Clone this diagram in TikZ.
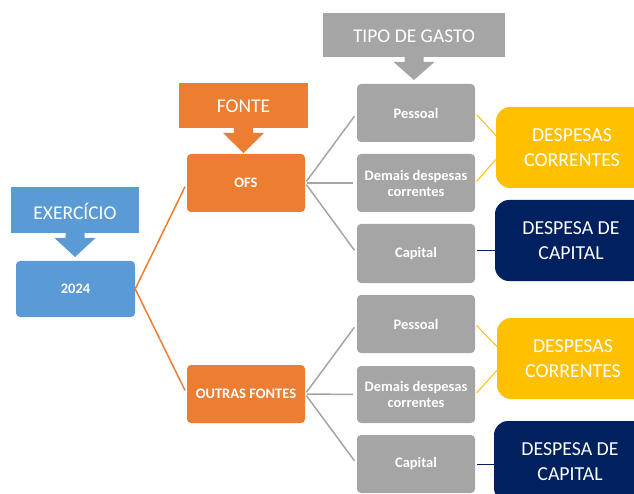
\documentclass[tikz,border=0pt]{standalone}
\usepackage{fontspec}
\setmainfont{Carlito}
\usetikzlibrary{calc}
\definecolor{cblue}{HTML}{5B9BD5}
\definecolor{corange}{HTML}{ED7D31}
\definecolor{cgray}{HTML}{A5A5A5}
\definecolor{cyellow}{HTML}{FFC000}
\definecolor{cnavy}{HTML}{002060}
\begin{document}
\begin{tikzpicture}[x=1pt,y=-1pt,
  box/.style={draw=none,rounded corners=4pt,minimum width=118pt,minimum height=58pt,
    text=white,font=\fontsize{14.5}{16}\selectfont\bfseries,align=center,inner sep=0pt},
  big/.style={draw=none,rounded corners=14pt,minimum width=152pt,minimum height=81pt,
    text=white,font=\fontsize{19.8}{25.5}\selectfont,align=center,inner sep=0pt},
  lbl/.style={text=white,font=\fontsize{19.5}{22}\selectfont,inner sep=0pt},
  conn/.style={line width=1.5pt,shorten >=4pt}
]
\clip (0,0) rectangle (634,494);
\useasboundingbox (0,0) rectangle (634,494);

% callouts
\newcommand{\callout}[6]{% color, x1, y1, x2, y2, tip y
  \fill[#1] (#2,#3) rectangle (#4,#5);
  \pgfmathsetmacro{\cx}{(#2+#4)/2}
  \fill[#1] (\cx-9.5,#5) -- (\cx-9.5,#5+5) -- (\cx-20.5,#5+5) -- (\cx,#6)
     -- (\cx+20.5,#5+5) -- (\cx+9.5,#5+5) -- (\cx+9.5,#5) -- cycle;
}
\callout{cblue}{11}{187}{139}{233}{257}
\callout{corange}{179}{83}{308}{128}{153}
\callout{cgray}{323}{13}{505}{57}{80}
\node[lbl] (lex) at (75,211) {EXERCÍCIO};
\node[lbl] (lfo) at (243.5,106) {FONTE};
\node[lbl] (lti) at (414,36) {TIPO DE GASTO};

% boxes
\node[box,fill=cblue,minimum width=119pt,minimum height=56pt] (y24) at (75.5,289) {2024};
\node[box,fill=corange] (ofs) at (246,183) {OFS};
\node[box,fill=corange] (out) at (246,394) {OUTRAS FONTES};

\node[box,fill=cgray] (p1) at (416,113) {Pessoal};
\node[box,fill=cgray] (d1) at (416,183) {Demais despesas\\correntes};
\node[box,fill=cgray,minimum height=59pt] (c1) at (416,253.5) {Capital};
\node[box,fill=cgray] (p2) at (416,324) {Pessoal};
\node[box,fill=cgray,minimum height=57pt] (d2) at (416,394.5) {Demais despesas\\correntes};
\node[box,fill=cgray] (c2) at (416,464) {Capital};

\node[big,fill=cyellow] (yl1) at (572,147.5) {DESPESAS\\CORRENTES};
\node[big,fill=cnavy] (nv1) at (571,240.5) {DESPESA DE\\CAPITAL};
\node[big,fill=cyellow] (yl2) at (573,358.5) {DESPESAS\\CORRENTES};
\node[big,fill=cnavy] (nv2) at (570,461.5) {DESPESA DE\\CAPITAL};

% connectors
\draw[conn,corange] (y24.east) -- (ofs.west);
\draw[conn,corange] (y24.east) -- (out.west);
\foreach \s/\t in {ofs/p1,ofs/d1,ofs/c1,out/p2,out/d2,out/c2}
  \draw[conn,cgray,shorten <=2pt] (\s.east) -- (\t.west);
\draw[cyellow,line width=1pt,shorten <=2pt] (p1.east) -- ($(yl1.west)+(0,-12)$);
\draw[cyellow,line width=1pt,shorten <=2pt] (d1.east) -- ($(yl1.west)+(0,12)$);
\draw[cyellow,line width=1pt,shorten <=2pt] (p2.east) -- ($(yl2.west)+(0,-12)$);
\draw[cyellow,line width=1pt,shorten <=2pt] (d2.east) -- ($(yl2.west)+(0,12)$);
\coordinate (c1o) at ($(c1.east)+(0,-3)$);
\draw[cnavy,line width=1pt,shorten <=2pt] (c1o) -- (c1o -| nv1.west);
\draw[cnavy,line width=1pt,shorten <=2pt] (c2.east) -- (c2.east -| nv2.west);
\end{tikzpicture}
\end{document}
